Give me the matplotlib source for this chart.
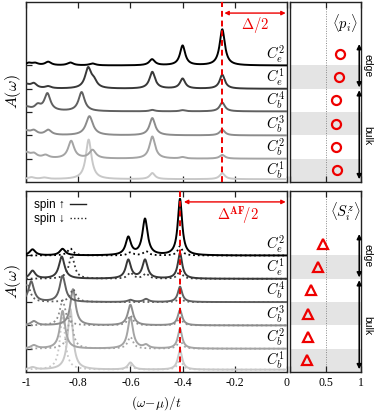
import numpy as np
import matplotlib
matplotlib.use('Agg')
import matplotlib.pyplot as plt
from matplotlib.lines import Line2D

plt.rcParams['mathtext.fontset'] = 'cm'
plt.rcParams['font.family'] = ['Liberation Serif', 'DejaVu Serif']

# 行标签（自下而上）
row_labels = [r'$C_b^1$', r'$C_b^2$', r'$C_b^3$', r'$C_b^4$', r'$C_e^1$', r'$C_e^2$']
row_colors = ['#c8c8c8', '#a4a4a4', '#8c8c8c', '#606060', '#383838', '#000000']

# 上图：谱峰 (位置, 高度, 半宽)，每行一组
top_offsets = [0.12, 1.0, 2.0, 3.03, 4.0, 5.0]
top_peaks = [
    [(-0.98, 0.08, 0.015), (-0.93, 0.06, 0.015), (-0.76, 1.7, 0.013), (-0.516, 0.26, 0.012), (-0.248, 0.26, 0.012)],
    [(-1.0, 0.25, 0.018), (-0.97, 0.18, 0.015), (-0.925, 0.13, 0.015), (-0.827, 0.75, 0.014),
     (-0.745, 0.36, 0.015), (-0.516, 0.95, 0.013), (-0.40, 0.06, 0.012), (-0.248, 0.16, 0.012)],
    [(-1.0, 0.18, 0.018), (-0.97, 0.18, 0.015), (-0.915, 0.22, 0.015), (-0.757, 0.82, 0.016),
     (-0.516, 0.74, 0.013), (-0.248, 0.24, 0.012)],
    [(-1.0, 0.18, 0.022), (-0.955, 0.22, 0.014), (-0.918, 0.74, 0.014), (-0.787, 0.82, 0.014),
     (-0.516, 0.06, 0.012), (-0.40, 0.05, 0.012), (-0.248, 0.38, 0.012)],
    [(-1.0, 0.18, 0.018), (-0.97, 0.2, 0.014), (-0.915, 0.09, 0.014), (-0.762, 0.85, 0.014),
     (-0.74, 0.28, 0.014), (-0.516, 0.72, 0.013), (-0.40, 0.43, 0.012), (-0.248, 0.6, 0.012)],
    [(-0.99, 0.1, 0.014), (-0.965, 0.09, 0.014), (-0.915, 0.15, 0.014), (-0.83, 0.12, 0.014),
     (-0.745, 0.08, 0.014), (-0.517, 0.26, 0.013), (-0.40, 0.85, 0.012), (-0.248, 1.55, 0.012)],
]

# 下图：自旋向上（实线）和向下（虚线）
bot_offsets = [0.1, 1.0, 2.0, 3.0, 4.0, 5.0]
bot_up = [
    [(-0.975, 0.1, 0.014), (-0.83, 2.6, 0.012), (-0.6, 0.3, 0.012), (-0.41, 0.85, 0.01)],
    [(-0.97, 0.14, 0.014), (-0.86, 1.62, 0.012), (-0.6, 1.35, 0.012), (-0.54, 0.14, 0.012), (-0.41, 0.85, 0.01)],
    [(-0.97, 0.18, 0.014), (-0.82, 1.55, 0.012), (-0.6, 0.88, 0.012), (-0.41, 0.66, 0.01)],
    [(-0.98, 0.88, 0.013), (-0.86, 1.12, 0.013), (-0.6, 0.09, 0.012), (-0.54, 0.13, 0.012), (-0.41, 0.66, 0.01)],
    [(-0.975, 0.34, 0.013), (-0.863, 0.95, 0.013), (-0.608, 0.8, 0.012), (-0.544, 0.8, 0.012), (-0.41, 1.1, 0.01)],
    [(-0.975, 0.26, 0.013), (-0.86, 0.28, 0.013), (-0.608, 0.76, 0.012), (-0.544, 1.55, 0.012), (-0.41, 2.42, 0.01)],
]
bot_dn = [
    [(-0.86, 2.3, 0.012), (-0.6, 0.18, 0.012), (-0.41, 0.46, 0.01)],
    [(-0.83, 1.38, 0.012), (-0.6, 0.5, 0.012), (-0.41, 0.37, 0.01)],
    [(-0.86, 1.08, 0.013), (-0.6, 0.42, 0.012), (-0.41, 0.35, 0.01)],
    [(-0.995, 0.8, 0.013), (-0.82, 0.55, 0.013), (-0.41, 0.18, 0.01)],
    [(-0.825, 1.0, 0.013), (-0.6, 0.26, 0.012), (-0.54, 0.22, 0.012), (-0.41, 0.35, 0.01)],
    [(-0.83, 0.3, 0.013), (-0.6, 0.13, 0.012), (-0.54, 0.18, 0.012), (-0.41, 0.4, 0.01)],
]

# 右侧：<p_i> 与 <S_i^z>
p_vals = [0.66, 0.65, 0.65, 0.65, 0.69, 0.71]
sz_vals = [0.24, 0.26, 0.26, 0.29, 0.40, 0.46]

gap_top = -0.25
gap_bot = -0.41

x = np.linspace(-1, 0, 2000)


def spectrum(peaks, base):
    y = np.full_like(x, base)
    for x0, h, g in peaks:
        y += h * g ** 2 / ((x - x0) ** 2 + g ** 2)
    return y


W, H = 374, 411
fig = plt.figure(figsize=(W / 100, H / 100), dpi=100)

def fx(px):
    return px / W

def fy(py):
    return 1 - py / H

ax_t = fig.add_axes([fx(26), fy(182), fx(287 - 26), (182 - 2) / H])
ax_b = fig.add_axes([fx(26), fy(372), fx(287 - 26), (372 - 191) / H])
ar_t = fig.add_axes([fx(290), fy(182), fx(361 - 290), (182 - 2) / H])
ar_b = fig.add_axes([fx(290), fy(372), fx(361 - 290), (372 - 191) / H])

row_h = 23.3
ylim_t = 180 / row_h
ylim_b = 181 / row_h

for ax in (ax_t, ax_b, ar_t, ar_b):
    for s in ax.spines.values():
        s.set_linewidth(1.0)
        s.set_color('#222222')
    ax.tick_params(direction='in', length=4, width=0.9, top=True, labelsize=8.5, color='#222222')

# 主图
for ax, ylim in ((ax_t, ylim_t), (ax_b, ylim_b)):
    ax.set_xlim(-1, 0)
    ax.set_ylim(0, ylim)
    ax.set_xticks([-1, -0.8, -0.6, -0.4, -0.2, 0])
    ax.set_yticks([1, 2, 3, 4, 5])
    ax.set_yticklabels([])
    ax.set_ylabel(r'$A(\omega)$', fontsize=11.5)
    ax.yaxis.set_label_coords(-0.01, 0.5)
    for i, lab in enumerate(row_labels):
        ax.text(-0.008, i + 0.5, lab, ha='right', va='center', fontsize=10.5)

ax_t.set_xticklabels([])
ax_b.set_xticklabels(['-1', '-0.8', '-0.6', '-0.4', '-0.2', '0'])
ax_b.set_xlabel(r'$(\omega\!-\!\mu)/t$', fontsize=9.5, labelpad=4)

for i in range(6):
    ax_t.plot(x, spectrum(top_peaks[i], top_offsets[i]), color=row_colors[i], lw=1.4, zorder=3 + i)
    ax_b.plot(x, spectrum(bot_dn[i], bot_offsets[i]), color=row_colors[i], lw=1.3, ls=(0, (1, 1.6)), zorder=3 + i)
    ax_b.plot(x, spectrum(bot_up[i], bot_offsets[i]), color=row_colors[i], lw=1.4, zorder=3 + i)

red = '#ee0000'
ax_t.axvline(gap_top, color=red, lw=1.4, ls=(0, (3, 2)), zorder=10)
ax_b.axvline(gap_bot, color=red, lw=1.4, ls=(0, (3, 2)), zorder=10)
ax_t.annotate('', xy=(gap_top + 0.01, 7.25), xytext=(-0.005, 7.25),
              arrowprops=dict(arrowstyle='<|-|>', color=red, lw=1.0, mutation_scale=6, shrinkA=0, shrinkB=0))
ax_t.text(-0.123, 6.72, r'$\mathbf{\Delta/2}$', color=red, ha='center', va='center', fontsize=10.5)
ax_b.annotate('', xy=(gap_bot + 0.015, 7.3), xytext=(-0.005, 7.3),
              arrowprops=dict(arrowstyle='<|-|>', color=red, lw=1.0, mutation_scale=6, shrinkA=0, shrinkB=0))
ax_b.text(-0.19, 6.7, r'$\mathbf{\Delta^{AF}\!/2}$', color=red, ha='center', va='center', fontsize=10.5)

handles = [Line2D([], [], color='#222222', lw=1.0), Line2D([], [], color='#222222', lw=1.0, ls=(0, (1, 1.6)))]
leg = ax_b.legend(handles, ['spin ↑', 'spin ↓'], loc='upper left', frameon=False, markerfirst=False,
                  handlelength=1.4, handletextpad=0.4, borderaxespad=0.3, labelspacing=0.15,
                  prop={'family': ['Liberation Sans', 'DejaVu Sans'], 'size': 8.5})
leg.set_zorder(20)

# 右侧面板
for ax, vals, mk, ylim, lab in ((ar_t, p_vals, 'o', ylim_t, r'$\langle p_i\rangle$'),
                                (ar_b, sz_vals, '^', ylim_b, r'$\langle S_i^z\rangle$')):
    ax.set_xlim(0, 1)
    ax.set_ylim(0, ylim)
    ax.set_yticks([])
    ax.set_xticks([0, 0.5, 1])
    for k in (0, 2, 4):
        ax.axhspan(k, k + 1, color='#e4e4e4', lw=0, zorder=0)
    ax.axvline(0.5, color='#888888', lw=0.7, ls=(0, (1, 1.5)), zorder=1)
    ax.plot(vals, np.arange(6) + 0.5, ls='none', marker=mk, ms=6.5 if mk == 'o' else 7.0,
            mfc='none', mec=red, mew=1.6, zorder=5)
    ax.text(0.78, ylim - 0.9, lab, ha='center', va='center', fontsize=10.5)
    for y0, y1 in ((5.92, 4.06), (3.94, 0.12)):
        ax.annotate('', xy=(0.975, y1), xytext=(0.975, y0),
                    arrowprops=dict(arrowstyle='<|-|>', color='black', lw=1.1, mutation_scale=7,
                                    shrinkA=0, shrinkB=0), annotation_clip=False)
    ax.text(1.085, 5.0, 'edge', rotation=270, ha='center', va='center', fontsize=7.5,
            family=['Liberation Sans', 'DejaVu Sans'], clip_on=False)
    ax.text(1.085, 2.0, 'bulk', rotation=270, ha='center', va='center', fontsize=7.5,
            family=['Liberation Sans', 'DejaVu Sans'], clip_on=False)

ar_t.set_xticklabels([])
ar_b.set_xticklabels(['', '0.5', '1'])

fig.savefig('out.png', dpi=100)
